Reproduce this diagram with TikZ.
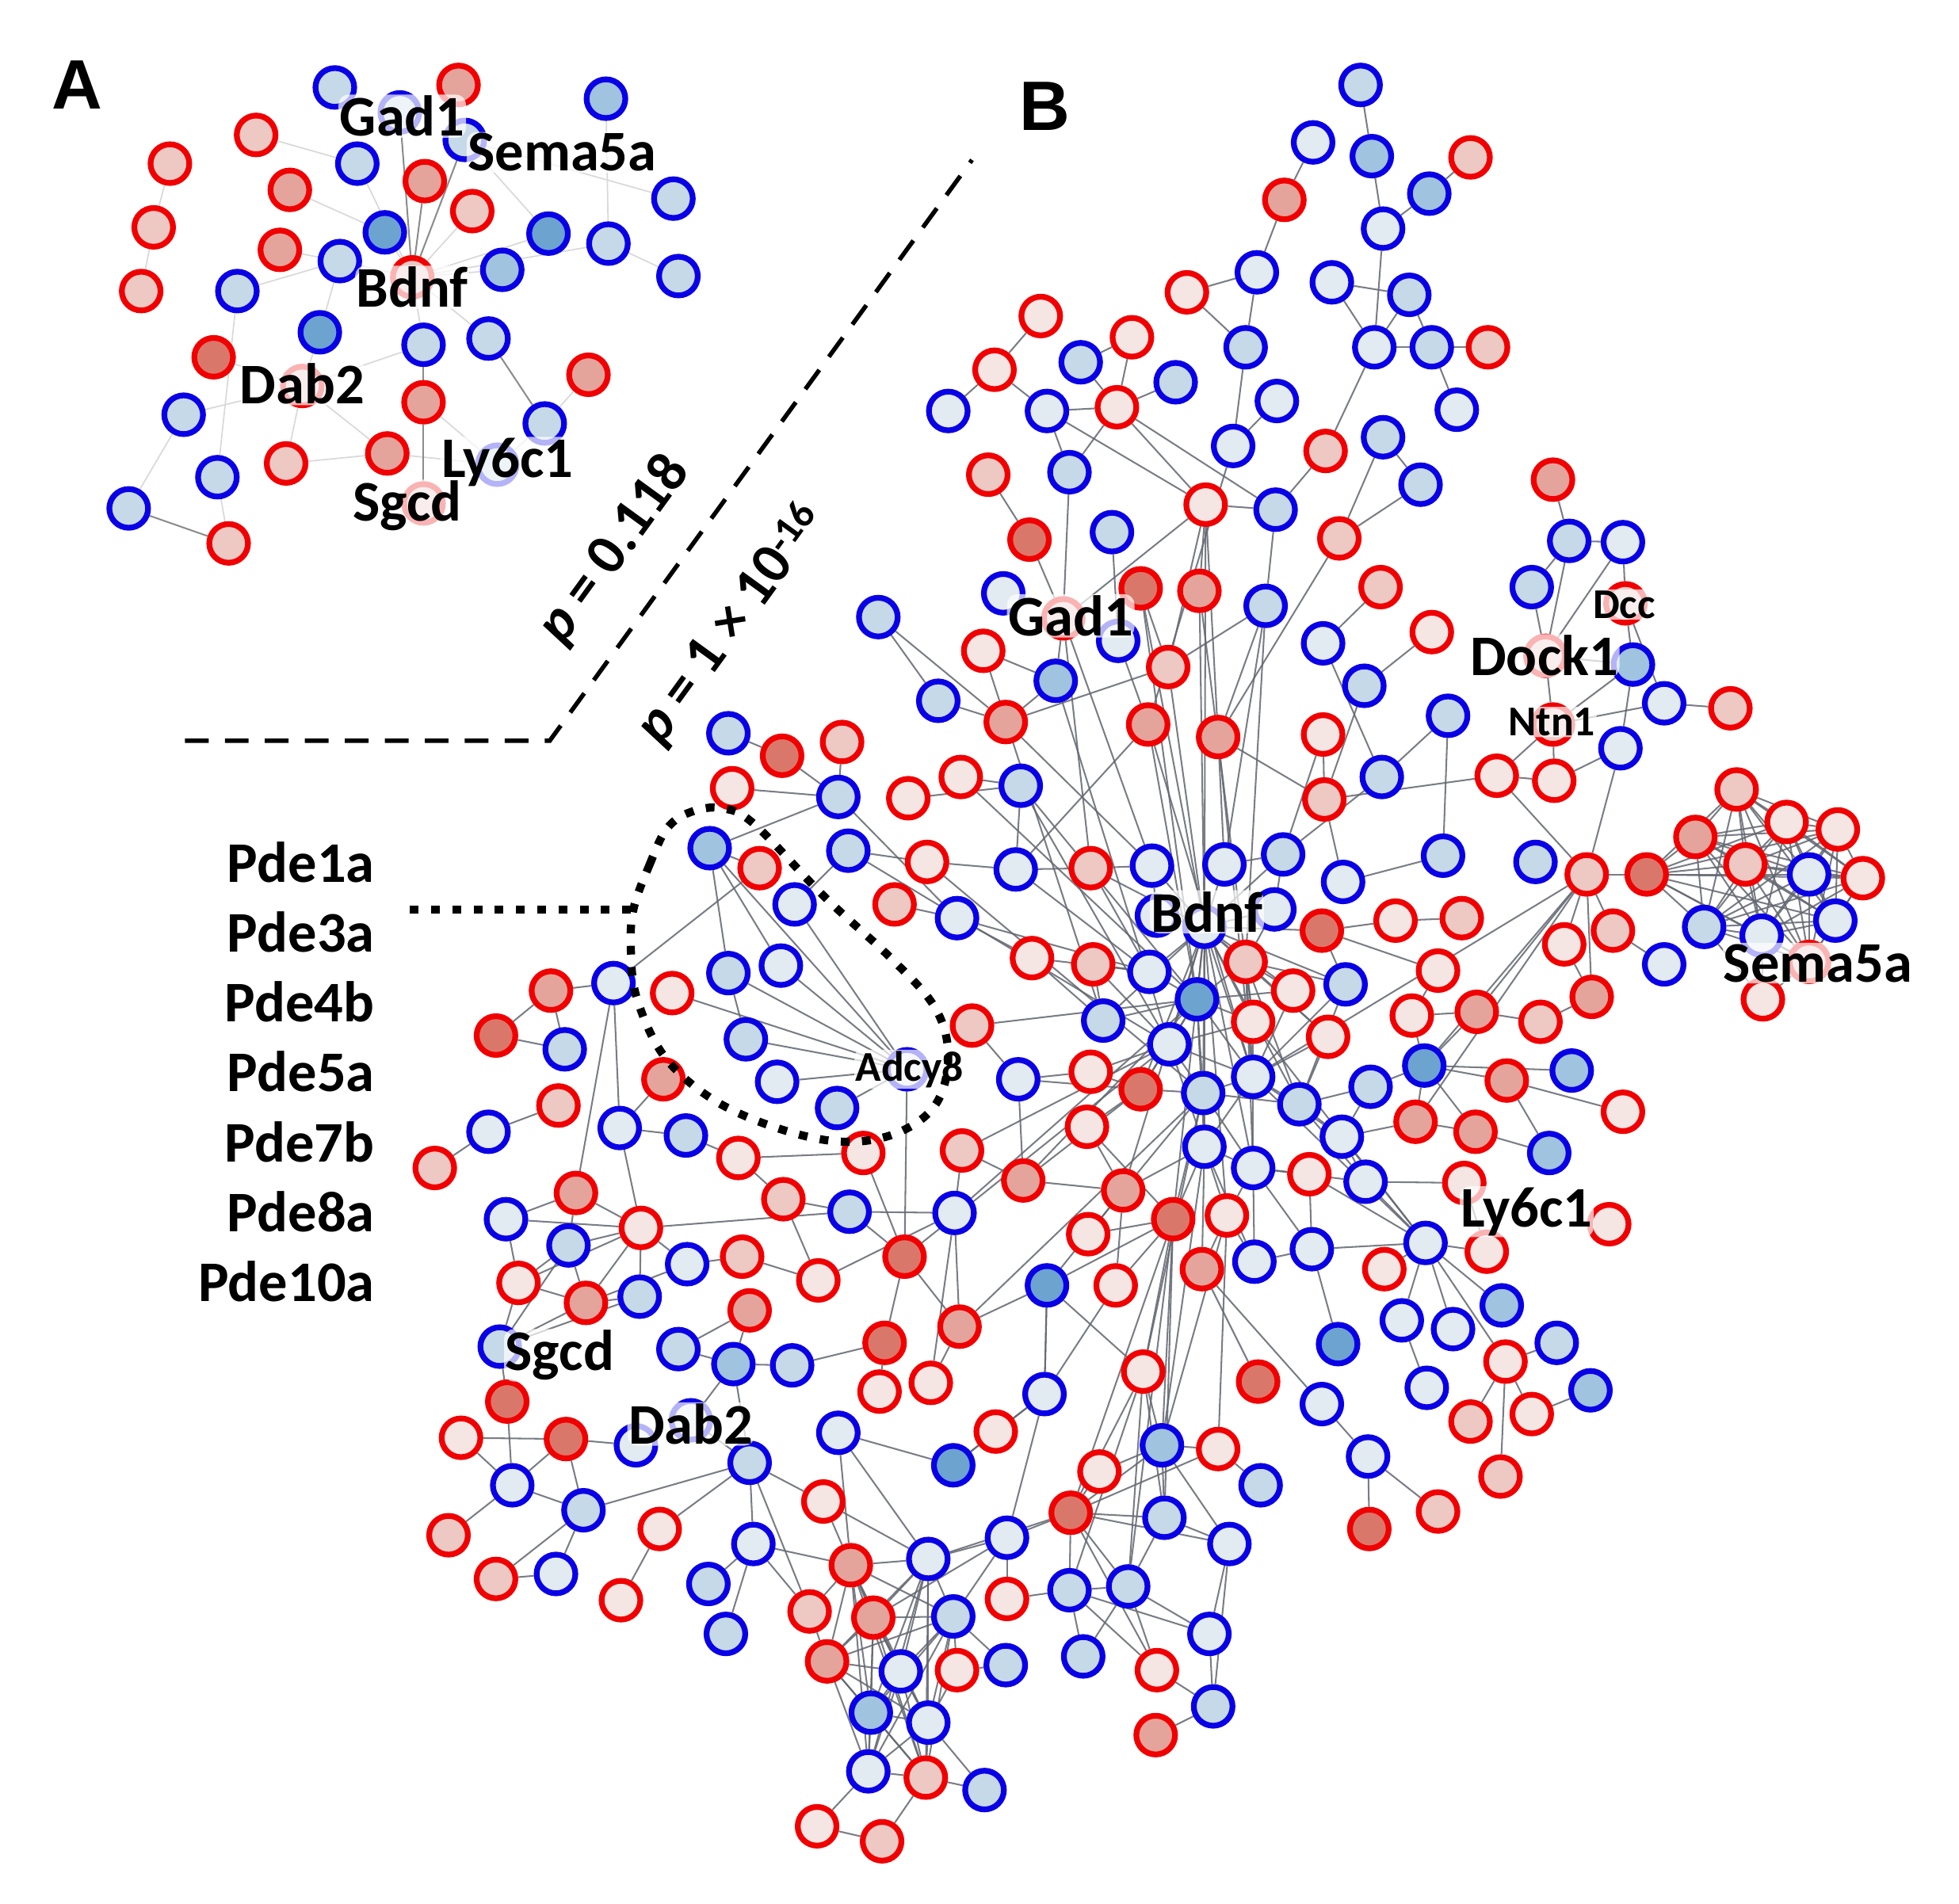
\documentclass[tikz,border=0pt]{standalone}
\usepackage{fontspec}
\setmainfont{Carlito}
\newfontfamily\arialf{Liberation Sans}
\pgfdeclarelayer{edges}
\pgfsetlayers{edges,main}
\definecolor{redline}{HTML}{F00000}
\definecolor{blueline}{HTML}{0A00E6}
\definecolor{R0}{HTML}{F5E5E3}
\definecolor{R1}{HTML}{EEC9C4}
\definecolor{R2}{HTML}{E4A49B}
\definecolor{R3}{HTML}{D9786A}
\definecolor{B0}{HTML}{E2EAF2}
\definecolor{B1}{HTML}{C6D9E9}
\definecolor{B2}{HTML}{A0C3DF}
\definecolor{B3}{HTML}{6CA3CF}
\definecolor{edgecol}{HTML}{62666F}
\tikzset{
  rn/.style={circle, draw=redline, line width=4.6pt, minimum size=31pt, inner sep=0pt},
  bn/.style={circle, draw=blueline, line width=4.6pt, minimum size=31pt, inner sep=0pt},
  edge/.style={draw=edgecol, line width=1.3pt, draw opacity=0.85},
  faint/.style={draw=black!15, line width=1.1pt},
  faintd/.style={draw=black!45, line width=1.3pt},
  lab/.style={font=\bfseries\fontsize{46}{50}\selectfont, inner sep=1pt, fill=white, fill opacity=0.7, text opacity=1, rounded corners=8pt},
  slab/.style={font=\bfseries\fontsize{34}{37}\selectfont, inner sep=1pt, fill=white, fill opacity=0.7, text opacity=1, rounded corners=6pt},
  plab/.style={font=\bfseries\fontsize{46}{50}\selectfont, inner sep=0pt, anchor=east},
  dashln/.style={line width=3.5pt, dash pattern=on 19pt off 13pt},
  dotln/.style={line width=6.5pt, dash pattern=on 7pt off 10pt},
}
\begin{document}
\begin{tikzpicture}[x=1pt,y=-1pt]
\useasboundingbox (0,0) rectangle (1568,1524);
% ---------- Panel A nodes ----------
\foreach \n/\x/\y/\c in {a2/367/68/R2, a4/205/108/R1, a5/136/131/R1, a7/340/145/R2, a8/232/152/R2, a10/378/169/R1, a11/123/182/R1, a15/224/200/R2, a19/113/233/R1, a24/171/286/R3, a25/471/300/R2, a27/339/322/R2, a29/229/371/R1, a30/310/363/R2, a33/183/435/R1, a36/330/222/R1, a37/242/309/R1, a39/339/403/R1}
  \node[rn, fill=\c] (\n) at (\x,\y) {};
\foreach \n/\x/\y/\c in {a1/268/70/B1, a3/485/79/B2, a6/286/131/B1, a9/539/159/B1, a12/308/186/B3, a13/439/187/B3, a14/487/195/B1, a16/272/209/B1, a17/402/216/B2, a18/543/221/B1, a20/190/233/B1, a21/256/266/B3, a22/339/276/B1, a23/391/271/B1, a26/147/332/B1, a28/436/339/B1, a31/174/382/B1, a32/103/407/B1, a34/320/90/B1, a35/372/112/B1, a38/398/372/B1}
  \node[bn, fill=\c] (\n) at (\x,\y) {};
% ---------- Panel B nodes ----------
\foreach \n/\x/\y/\c in {r1/1177/126/R1, r2/1028/160/R2, r3/950/234/R0, r4/833/253/R0, r5/906/270/R0, r6/1191/278/R1, r7/796/296/R0, r8/894/326/R0, r9/1061/361/R1, r10/791/380/R1, r11/965/404/R0, r12/1243/384/R2, r13/824/432/R3, r14/1072/431/R1, r15/913/471/R3, r16/960/473/R2, r17/1105/470/R1, r18/851/495/R1, r19/787/521/R0, r20/1146/506/R0, r21/1301/483/R1, r22/1237/525/R1, r23/935/534/R1, r24/1385/567/R1, r25/805/578/R2, r26/919/580/R2, r27/975/590/R2, r28/1059/588/R0, r29/1243/580/R1, r30/626/605/R3, r31/674/594/R1, r32/586/631/R0, r33/727/639/R0, r34/769/622/R0, r35/1198/621/R0, r36/1244/625/R0, r37/1060/640/R1, r38/1390/632/R1, r39/608/695/R1, r40/742/690/R0, r41/716/724/R1, r42/873/695/R1, r43/1270/700/R1, r44/1318/700/R3, r45/1357/670/R2, r46/1430/658/R0, r47/1471/664/R0, r48/1397/692/R1, r49/1491/703/R0, r50/1411/800/R0, r51/1448/770/R1, r52/1291/745/R1, r53/1252/756/R0, r54/1274/798/R2, r55/1233/818/R1, r56/1182/810/R2, r57/1130/813/R0, r58/1151/777/R0, r59/1170/735/R1, r60/1117/737/R0, r61/1058/745/R3, r62/826/767/R0, r63/875/772/R1, r64/997/770/R1, r65/1035/793/R0, r66/1003/818/R0, r67/1063/830/R0, r68/873/858/R0, r69/913/872/R3, r70/1206/865/R2, r71/870/902/R0, r72/1133/898/R2, r73/1181/906/R2, r74/1299/890/R0, r75/819/945/R2, r76/899/953/R2, r77/1048/940/R0, r78/1172/947/R0, r79/1190/1002/R0, r80/1288/980/R0, r81/939/976/R3, r82/982/973/R0, r83/871/988/R0, r84/893/1029/R0, r85/962/1016/R2, r86/1108/1016/R0, r87/724/1006/R3, r88/768/1062/R2, r89/708/1075/R3, r90/704/1114/R0, r91/745/1107/R0, r92/778/821/R1, r93/770/921/R1, r94/691/923/R0, r95/538/795/R0, r96/531/864/R2, r97/591/927/R0, r98/627/960/R1, r99/655/1025/R0, r100/594/1006/R1, r101/600/1049/R2, r102/513/983/R0, r103/469/1043/R2, r104/415/1027/R0, r105/461/955/R2, r106/447/885/R1, r107/348/935/R1, r108/397/829/R3, r109/441/793/R2, r110/406/1122/R3, r111/453/1152/R3, r112/369/1151/R0, r113/659/1202/R0, r114/359/1229/R1, r115/528/1224/R0, r116/397/1264/R1, r117/497/1281/R0, r118/681/1253/R2, r119/648/1290/R1, r120/699/1295/R2, r121/662/1330/R2, r122/766/1337/R0, r123/741/1423/R1, r124/654/1462/R0, r125/706/1474/R1, r126/797/1146/R0, r127/857/1211/R3, r128/880/1178/R0, r129/806/1280/R0, r130/915/1098/R0, r131/975/1160/R0, r132/1007/1106/R3, r133/926/1337/R0, r134/925/1389/R2, r135/1096/1224/R3, r136/1151/1210/R1, r137/1205/1090/R0, r138/1177/1138/R1, r139/1226/1132/R0, r140/1201/1182/R1}
  \node[rn, fill=\c] (\n) at (\x,\y) {};
\foreach \n/\x/\y/\c in {u1/1089/68/B1, u2/1051/114/B0, u3/1098/125/B2, u4/1144/155/B2, u5/1107/183/B0, u6/1006/218/B0, u7/1066/226/B0, u8/1128/236/B1, u9/997/278/B1, u10/1100/278/B0, u11/1146/278/B1, u12/865/290/B1, u13/941/306/B1, u14/759/329/B0, u15/838/329/B0, u16/1022/321/B0, u17/1166/328/B0, u18/987/357/B0, u19/1107/350/B1, u20/856/378/B1, u21/1137/388/B1, u22/1021/408/B1, u23/890/426/B1, u24/1256/433/B1, u25/1299/434/B0, u26/803/475/B0, u27/1013/485/B1, u28/1226/470/B1, u29/703/494/B1, u30/895/513/B0, u31/1059/515/B0, u32/1307/532/B2, u33/845/545/B2, u34/1092/549/B1, u35/751/561/B1, u36/1159/573/B1, u37/1332/563/B0, u38/1297/599/B0, u39/583/587/B1, u40/671/638/B1, u41/817/629/B1, u42/1106/622/B1, u43/568/679/B2, u44/679/681/B1, u45/636/724/B0, u46/766/735/B0, u47/813/696/B0, u48/922/693/B0, u49/980/692/B0, u50/1027/684/B1, u51/1075/706/B0, u52/1155/685/B1, u53/1229/690/B1, u54/1448/700/B0, u55/1364/742/B1, u56/1410/749/B0, u57/1469/737/B0, u58/1332/772/B0, u59/964/742/B0, u60/920/778/B0, u61/1077/788/B1, u62/958/800/B3, u63/883/817/B1, u64/936/836/B0, u65/1003/862/B0, u66/963/875/B1, u67/1040/884/B1, u68/1097/870/B1, u69/1140/853/B3, u70/1258/857/B2, u71/964/918/B0, u72/1074/910/B0, u73/1240/923/B2, u74/1003/935/B0, u75/1093/946/B0, u76/1141/995/B0, u77/1004/1010/B0, u78/1050/1000/B0, u79/838/1029/B3, u80/764/971/B0, u81/680/970/B1, u82/815/864/B0, u83/670/887/B1, u84/622/866/B0, u85/597/832/B1, u86/583/779/B1, u87/625/773/B0, u88/726/856/B0, u89/549/909/B1, u90/550/1012/B0, u91/512/1038/B1, u92/455/997/B1, u93/405/976/B0, u94/496/903/B0, u95/391/906/B0, u96/452/840/B1, u97/491/787/B0, u98/543/1080/B1, u99/587/1092/B2, u100/634/1093/B1, u101/400/1078/B1, u102/509/1157/B0, u103/600/1171/B1, u104/671/1147/B0, u105/410/1189/B0, u106/467/1209/B1, u107/445/1260/B0, u108/603/1236/B0, u109/567/1268/B1, u110/581/1308/B1, u111/743/1248/B0, u112/763/1294/B1, u113/721/1338/B0, u114/805/1333/B1, u115/697/1371/B2, u116/743/1379/B0, u117/695/1418/B0, u118/788/1433/B1, u119/836/1116/B0, u120/763/1173/B3, u121/806/1231/B0, u122/856/1273/B1, u123/903/1270/B1, u124/930/1157/B2, u125/932/1215/B1, u126/984/1236/B0, u127/1009/1189/B1, u128/968/1308/B0, u129/867/1326/B1, u130/971/1366/B1, u131/1058/1124/B0, u132/1071/1076/B3, u133/1095/1166/B0, u134/1122/1057/B0, u135/1163/1064/B0, u136/1202/1045/B2, u137/1142/1111/B0, u138/1246/1075/B1, u139/1273/1113/B2, u140/553/1137/B0, u141/926/733/B0, u142/1020/728/B0}
  \node[bn, fill=\c] (\n) at (\x,\y) {};
% ---------- edges ----------
\begin{pgfonlayer}{edges}
\foreach \a/\b in {a12/a36, a10/a36, a17/a36, a23/a36, a6/a36, a16/a36, a13/a36, a14/a36, a28/a25, a32/a26, a21/a37, a26/a37, a29/a37, a37/a22, a29/a30, a30/a38, a28/a38, a16/a20, a4/a6, a8/a12, a14/a18, a3/a14, a11/a5, a11/a19, a21/a16, a20/a31, a31/a33, a35/a13, a35/a9, a22/a36, a27/a38, a15/a16, a24/a37, a37/a30}
  \draw[faint] (\a) -- (\b);
\foreach \a/\b in {a34/a36, a35/a36, a7/a36, a23/a28, a32/a33, a22/a27, a27/a39}
  \draw[faintd] (\a) -- (\b);
\foreach \a/\b in {u1/u3, u3/u5, u4/u5, u4/r1, u2/r2, r2/u6, r3/u6, r3/u9, u6/u9, u9/u18, u5/u10, u7/u8, u7/u10, u8/u10, u8/u11, u10/u11, u11/r6, u11/u17, u10/r9, r9/u22, u19/u21, u19/r14, u21/r14, r14/r27, r4/r7, r7/u14, r7/u15, u12/r5, u12/r8, r5/r8, r8/u13, u15/r8, u15/u20, r8/u20, u15/r11, r8/r11, r8/u22, r11/u22, r11/r16, r11/r23, r11/r27, r11/r18, r10/r13, r13/r18, u20/r18, u23/u30, u22/u27, u16/u18, u18/r26, r17/u31, r20/u34}
  \draw[edge] (\a) -- (\b);
\foreach \a/\b in {r18/u33, r19/u33, u35/r25, u35/u29, r25/r23, r23/u27, r25/u48, r26/u47, r27/u49, r27/r37, r27/u27, r28/r37, u34/r37, u42/u36, u33/r25, r18/u48, r18/r42, r15/r23, u30/r26, r16/u59, r15/u59, r11/u59, r23/u59, r26/u65, r27/u65, r28/u50, r37/u51, u42/u50, u36/u52, u27/u49, u31/u42, u27/r64, r16/r66, r15/u62, r26/u62, u33/u64, r19/u63, u41/u62, u29/r25}
  \draw[edge] (\a) -- (\b);
\foreach \a/\b in {r30/u39, r30/u40, r31/u40, r32/u40, u43/u40, u40/u46, u43/u86, u43/u87, u43/u88, u97/r39, u97/r109, u97/u94, u97/r105, r109/r108, r109/u96, r108/u96, r106/u95, u95/r107, u94/r96, u94/u89, u89/r97, r97/r98, u86/u88, u87/u88, u85/u88, u84/u88, u83/u88, r95/u88, u86/u85, u45/u88, u45/u44, u88/r87, r33/u41, r34/u41, u41/u47, r40/u47, u46/r62, u47/r42, u46/u60, u44/r40, r41/u46, u44/u64, u41/u64, r34/u62, r40/u66, u47/u60, r42/u60, r42/u48, u48/u141, r39/u43}
  \draw[edge] (\a) -- (\b);
\foreach \a/\b in {r102/r105, r102/u93, r102/u81, r102/u92, r102/r104, r102/r103, r102/u91, r102/u90, r102/u94, u90/r103, r100/r99, u81/r98, u81/u80, u81/r87, r99/u80, r92/u62, r92/u82, r93/u80, r93/r75, u82/r68, u82/r75, r94/r87, r94/r97, r91/u80, r88/u80, r87/r89, r87/r88, r88/u79, r88/r91, r89/r90, r89/u100, u100/u99, u99/u98, u98/r101, r100/u90, r98/r99, r101/u99}
  \draw[edge] (\a) -- (\b);
\foreach \a/\b in {u101/r104, u101/r103, u101/u91, u101/r110, u101/u92, r104/r103, r104/u92, r103/u91, r103/u92, u92/r105, u93/r104, u93/r105, r110/u105, r112/r111, r112/u105, r111/u105, r111/u106, u105/u106, u105/r114, u106/r116, u106/u107, u106/u103, u102/r111, u140/u99, u140/u103, u103/r115, u103/r113, u103/u108, u103/r119, u103/u99, r113/r118, r113/u111, u108/u109, u108/u110, u108/r118, u108/r119, u104/u120, u104/u111, u120/r126, u120/u119, u119/u79, u111/u121, r115/r117, u107/r116}
  \draw[edge] (\a) -- (\b);
\foreach \a [count=\i] in {r118,u111,r120,u112,r121,u113,u115,u116,u117,r123} {
  \foreach \b [count=\j] in {r118,u111,r120,u112,r121,u113,u115,u116,u117,r123} {
    \ifnum\j>\i \draw[edge] (\a) -- (\b); \fi
  }
}
\foreach \a/\b in {r119/r121, r119/r118, u114/u112, u114/r122, r122/u112, r122/u116, u117/r124, r124/r125, r125/r123, r123/u118, u118/u116, u112/u121, u111/r127, r118/u104, r120/u121}
  \draw[edge] (\a) -- (\b);
\foreach \a/\b in {r81/r130, r81/u124, r81/u125, r81/u123, r81/r127, r81/r84, r81/u79, r81/r83, r81/r71, r85/r132, r85/u131, u79/r130, u79/u119, r84/u119, u119/u121, r130/r127, r130/u122, r130/u123, r130/u125, r130/u124, r127/u121, r127/u124, r127/r131, r127/u122, r127/u123, r127/u125, r127/u126, r127/r133, u124/r131, u124/u125, u124/u126, u124/r128, r131/u127, u125/u126, u125/u123, u122/u123, u123/u128, u123/r133, u122/r133, u122/u128, u122/u129, u126/u128, u126/u130, u128/u130, u130/r134, r133/u130, u129/u123, u131/u133, u133/r135, u133/r136, u78/u132, u76/u135, u76/u136, u76/r79, u134/u137, r137/r138, r137/r140, r137/r139, r137/u138, r139/u139, u76/r137, u76/u134, r78/u75, r78/r79, u76/u75, u76/r86, r126/u119, r128/r127, u121/r129, r129/u122}
  \draw[edge] (\a) -- (\b);
\foreach \a/\b in {u59/r64, u59/u62, u59/u64, u59/u65, u59/u66, u59/r66, u59/u60, u59/r65, u59/u67, u59/u71, u59/r81, u59/u74, u59/r61, u59/u61, u59/r67, u59/r69, u59/r76, u59/r82, u59/u63, u59/r42, u59/u48, u59/u49, u59/u50, u59/u141, u59/u142, u62/r64, u62/u64, u62/u65, u62/u66, u62/r66, u62/u71, u62/r65, u62/u60, u62/u63, u62/r69, u62/r75, u64/u66, u64/u65, u64/u71, u64/r66, u64/r69, u64/r68, u64/r63, u65/u66, u65/r66, u65/u67, u65/u71, u65/u74, u65/r65, u65/r67, u65/u72, u65/u61, u66/u71, u66/u74, u66/r69, u66/r76, u66/u67, u66/r81, r64/r66, r64/r65, r64/u61, r64/u65, r64/u67, r64/u74, r64/r67, u71/u74, u71/r76, u71/r81, u71/r82, u71/u77, u71/r85, u74/r77, u74/u75, u74/r82, u74/u77, u74/u78, r82/r85, r82/u77, r82/r131, r82/u124, u67/u72, u67/u68, u67/r67, u67/u75, u67/u61, u72/u68, u72/u75, u72/r72, u63/r62, u63/r63, u60/r63, u60/r62, r76/r75, r76/r71, r76/u79, r76/r83, r76/r84, r69/r68, r69/r71, r69/r75, r69/u82, u65/u76, u72/u76, r66/u76, u66/r130, u71/u124, r87/u64, r88/u66, u64/r93, u62/u80}
  \draw[edge] (\a) -- (\b);
\foreach \a/\b in {u69/r70, u69/u70, u69/r72, u69/r73, u69/u68, u69/r56, u69/r57, r70/u73, r70/r74, r73/u73, r72/r73, r56/r55, r56/r57, r57/r58, r58/r61, r61/u61, r61/r60, r59/r60, r53/r54, r54/r55, r43/r54, r43/u69, r43/r72, r43/u65, r43/r56, u76/u78, r77/u78, u77/u78, u52/u51, u50/u49, u142/u50, u142/r64, r77/u76}
  \draw[edge] (\a) -- (\b);
\foreach \a/\b in {u28/r22, u24/r22, u25/r22, u32/r22, r21/u25, r21/u32, r21/u37, r29/r22, r29/u32, r29/u37, r29/r35, r29/r36, r35/r36, r35/r43, r36/u38, u38/u32, u38/r43, u24/u25, u24/u28, u24/r12, u37/r24, r43/r44, r43/r53, r43/r52, r52/u58, r35/r37, r50/u56, r50/r51, r50/u55}
  \draw[edge] (\a) -- (\b);
\foreach \a [count=\i] in {r38,r46,r47,r45,r48,u54,r49,u55,u56,u57,r51,r44} {
  \foreach \b [count=\j] in {r38,r46,r47,r45,r48,u54,r49,u55,u56,u57,r51,r44} {
    \ifnum\j>\i \draw[edge] (\a) -- (\b); \fi
  }
}
\end{pgfonlayer}
% ---------- labels ----------
\node[font=\arialf\bfseries\fontsize{56}{60}\selectfont, inner sep=0pt] (labA) at (62,68) {A};
\node[font=\arialf\bfseries\fontsize{56}{60}\selectfont, inner sep=0pt] (labB) at (836,85) {B};
\node[lab] (tGadA) at (322,93) {Gad1};
\node[lab] (tSemaA) at (450,122) {Sema5a};
\node[lab] (tBdnfA) at (330,230) {Bdnf};
\node[lab] (tDabA) at (242,307) {Dab2};
\node[lab] (tLyA) at (406,370) {Ly6c1};
\node[lab] (tSgcdA) at (326,405) {Sgcd};
\node[lab] (tGadB) at (857,493) {Gad1};
\node[lab] (tBdnfB) at (966,730) {Bdnf};
\node[slab] (tDcc) at (1300,484) {Dcc};
\node[lab] (tDock) at (1236,525) {Dock1};
\node[slab] (tNtn) at (1242,578) {Ntn1};
\node[lab] (tSemaB) at (1455,771) {Sema5a};
\node[lab] (tLyB) at (1222,970) {Ly6c1};
\node[slab] (tAdcy) at (728,856) {Adcy8};
\node[lab] (tSgcdB) at (448,1085) {Sgcd};
\node[lab] (tDabB) at (553,1140) {Dab2};
\node[plab] (pde1) at (300,690) {Pde1a};
\node[plab] (pde3) at (300,746) {Pde3a};
\node[plab] (pde4) at (300,802) {Pde4b};
\node[plab] (pde5) at (300,858) {Pde5a};
\node[plab] (pde7) at (300,914) {Pde7b};
\node[plab] (pde8) at (300,970) {Pde8a};
\node[plab] (pde10) at (300,1026) {Pde10a};
\node[rotate=54, font=\bfseries\fontsize{46}{50}\selectfont, inner sep=0pt] (pv1) at (492,440) {\textit{p} = 0.118};
\node[rotate=54, font=\bfseries\fontsize{46}{50}\selectfont, inner sep=0pt] (pv2) at (586,500) {\textit{p} = 1 × 10\textsuperscript{-16}};
% ---------- dashed and dotted lines ----------
\coordinate (dl1) at (148,593);
\coordinate (dl2) at (440,593);
\coordinate (dl3) at (778,128);
\draw[dashln] (dl1) -- (dl2) -- (dl3);
\coordinate (dt1) at (328,728);
\coordinate (dt2) at (507,728);
\draw[dotln] (dt1) -- (dt2);
\draw[dotln] plot[smooth cycle, tension=0.6] coordinates {(507,728) (520,692) (534,663) (553,650) (578,647) (604,660) (660,718) (712,766) (748,806) (759,845) (749,884) (718,907) (675,914) (625,904) (572,881) (532,846) (510,800) (505,762)};
\end{tikzpicture}
\end{document}
